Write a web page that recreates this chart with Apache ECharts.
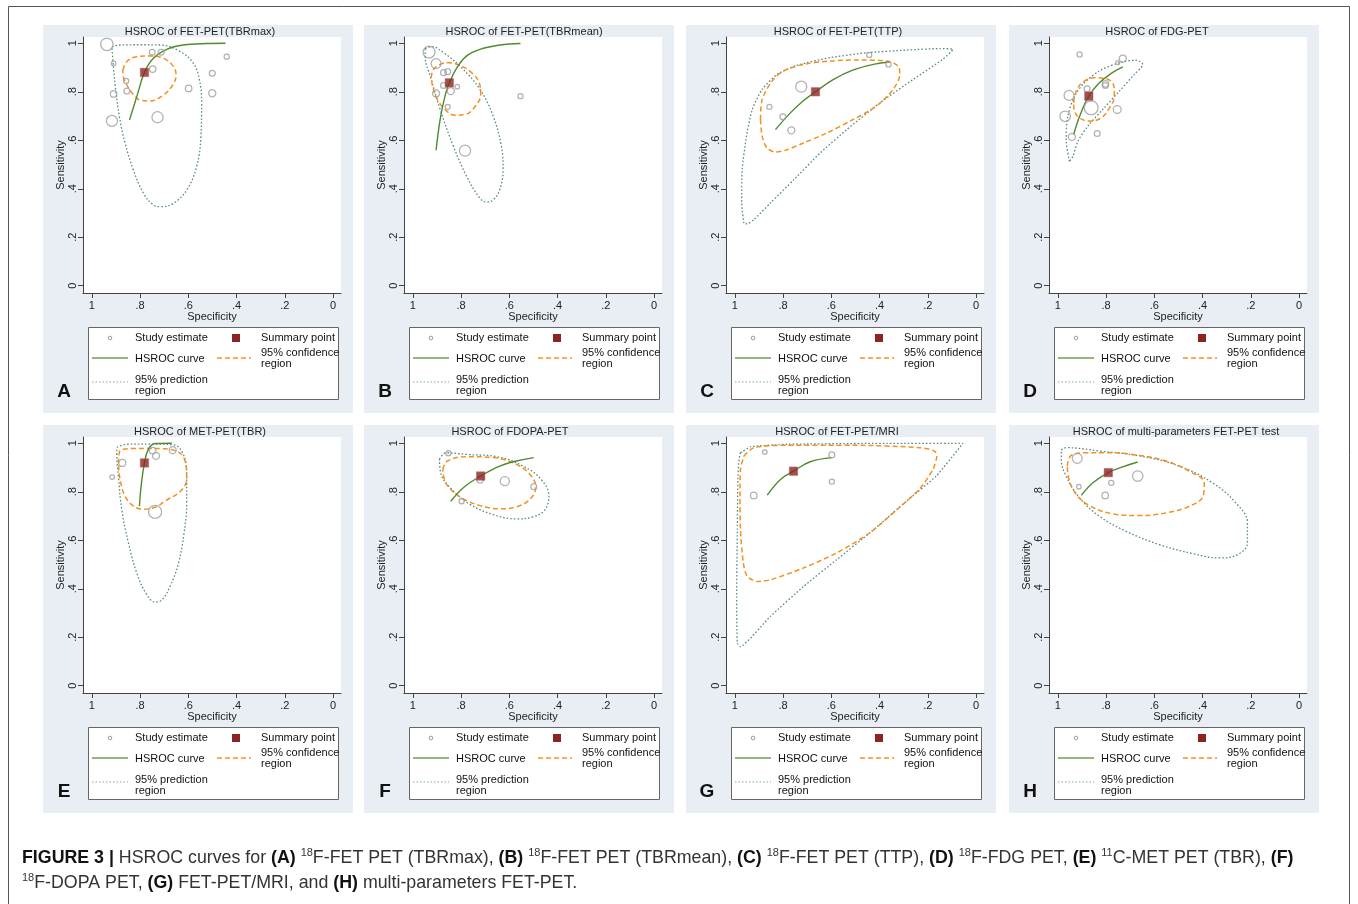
<!DOCTYPE html>
<html><head><meta charset="utf-8">
<script src="https://cdn.jsdelivr.net/npm/echarts@6/dist/echarts.min.js"></script>
<style>html,body{margin:0;padding:0;background:#fff}#c{width:1358px;height:904px}</style>
</head><body><div id="c"></div>
<script>
// ---------------- data ----------------
const titles = ['HSROC of FET-PET(TBRmax)','HSROC of FET-PET(TBRmean)','HSROC of FET-PET(TTP)','HSROC of FDG-PET',
  'HSROC of MET-PET(TBR)','HSROC of FDOPA-PET','HSROC of FET-PET/MRI','HSROC of multi-parameters FET-PET test'];
const panelLetters = ['A','B','C','D','E','F','G','H'];
const tickValues = [0, 0.2, 0.4, 0.6, 0.8, 1];
const tickLabels = ['0', '.2', '.4', '.6', '.8', '1'];
const xAxisName = 'Specificity';
const yAxisName = 'Sensitivity';
const legendStudy = 'Study estimate';
const legendSummary = 'Summary point';
const legendCurve = 'HSROC curve';
const legendConf = '95% confidence\nregion';
const legendPred = '95% prediction\nregion';

// study estimates: [specificity, sensitivity, study weight]
const studiesA = [[0.938,0.996,6],[0.910,0.917,2],[0.858,0.845,2.3],[0.855,0.803,2.7],[0.910,0.791,3],[0.917,0.680,5.3],[0.750,0.963,2.7],[0.713,0.963,2.7],[0.748,0.894,3],[0.728,0.695,5.3],[0.599,0.814,3],[0.501,0.876,2.7],[0.501,0.794,3.3],[0.441,0.945,2.3]];
const summaryA = [0.782,0.880];
const curveA = [[0.844,0.684],[0.814,0.780],[0.782,0.880],[0.745,0.938],[0.690,0.975],[0.621,0.993],[0.524,0.999],[0.446,1.0]];
const confA = [[0.872,0.890],[0.852,0.928],[0.814,0.945],[0.759,0.948],[0.703,0.938],[0.662,0.904],[0.651,0.869],[0.665,0.828],[0.703,0.787],[0.759,0.762],[0.800,0.766],[0.830,0.791],[0.855,0.828],[0.869,0.860]];
const predA = [[0.917,0.986],[0.883,0.993],[0.800,0.994],[0.717,0.993],[0.634,0.966],[0.579,0.917],[0.554,0.849],[0.545,0.752],[0.548,0.615],[0.566,0.491],[0.607,0.395],[0.662,0.340],[0.717,0.326],[0.745,0.333],[0.786,0.381],[0.828,0.477],[0.862,0.587],[0.886,0.697],[0.903,0.821],[0.913,0.931]];

const studiesB = [[0.933,0.964,5.7],[0.904,0.916,4.7],[0.904,0.793,3.3],[0.873,0.879,2.7],[0.856,0.883,2.7],[0.873,0.826,2.7],[0.843,0.803,3.3],[0.816,0.821,2],[0.856,0.738,2.3],[0.784,0.557,5.3],[0.554,0.782,2.3]];
const summaryB = [0.849,0.837];
const curveB = [[0.904,0.559],[0.887,0.686],[0.867,0.782],[0.849,0.837],[0.818,0.899],[0.777,0.948],[0.722,0.975],[0.640,0.993],[0.554,0.999]];
const confB = [[0.924,0.858],[0.915,0.892],[0.887,0.913],[0.853,0.920],[0.805,0.909],[0.757,0.879],[0.725,0.837],[0.719,0.789],[0.743,0.738],[0.784,0.706],[0.825,0.703],[0.867,0.727],[0.898,0.768],[0.917,0.817]];
const predB = [[0.949,0.978],[0.922,0.986],[0.873,0.961],[0.805,0.906],[0.722,0.810],[0.667,0.699],[0.633,0.575],[0.626,0.479],[0.640,0.396],[0.667,0.354],[0.695,0.345],[0.722,0.361],[0.777,0.451],[0.832,0.575],[0.887,0.727],[0.928,0.865],[0.949,0.941]];

const studiesC = [[0.857,0.738,2.3],[0.801,0.697,2.7],[0.766,0.641,3.3],[0.725,0.821,5.3],[0.443,0.952,2.3],[0.363,0.913,2.3]];
const summaryC = [0.666,0.800];
const curveC = [[0.832,0.644],[0.770,0.713],[0.715,0.764],[0.666,0.800],[0.591,0.851],[0.509,0.890],[0.426,0.913],[0.358,0.923]];
const confC = [[0.894,0.686],[0.887,0.768],[0.846,0.844],[0.798,0.886],[0.715,0.913],[0.605,0.927],[0.481,0.931],[0.371,0.927],[0.323,0.906],[0.316,0.872],[0.344,0.810],[0.413,0.741],[0.509,0.686],[0.619,0.630],[0.715,0.589],[0.784,0.561],[0.832,0.552],[0.867,0.568],[0.887,0.617]];
const predC = [[0.963,0.258],[0.972,0.341],[0.970,0.479],[0.952,0.617],[0.928,0.727],[0.887,0.810],[0.825,0.872],[0.743,0.909],[0.605,0.941],[0.454,0.961],[0.289,0.972],[0.151,0.978],[0.096,0.975],[0.138,0.934],[0.261,0.851],[0.399,0.754],[0.536,0.644],[0.646,0.548],[0.756,0.437],[0.853,0.341],[0.922,0.272],[0.949,0.255]];

const studiesD = [[0.910,0.954,2.3],[0.731,0.937,3.3],[0.752,0.920,1.7],[0.803,0.833,3],[0.803,0.826,2.7],[0.879,0.812,2.7],[0.954,0.785,4.7],[0.862,0.734,6.7],[0.970,0.699,5],[0.754,0.727,3.7],[0.942,0.614,3.3],[0.837,0.628,2.7]];
const summaryD = [0.872,0.782];
const curveD = [[0.935,0.623],[0.910,0.699],[0.872,0.782],[0.828,0.837],[0.779,0.876],[0.731,0.903]];
const confD = [[0.935,0.754],[0.921,0.810],[0.890,0.844],[0.848,0.858],[0.800,0.854],[0.768,0.823],[0.766,0.782],[0.786,0.734],[0.821,0.692],[0.869,0.679],[0.910,0.692],[0.931,0.720]];
const predD = [[0.952,0.513],[0.966,0.603],[0.959,0.699],[0.931,0.782],[0.890,0.837],[0.828,0.886],[0.745,0.920],[0.676,0.930],[0.648,0.913],[0.683,0.872],[0.745,0.803],[0.814,0.727],[0.876,0.658],[0.917,0.596],[0.938,0.534]];

const studiesE = [[0.916,0.861,2],[0.874,0.919,3.3],[0.748,0.970,3],[0.734,0.948,3.3],[0.665,0.972,3.3],[0.738,0.717,6.3]];
const summaryE = [0.782,0.919];
const curveE = [[0.803,0.741],[0.796,0.823],[0.782,0.919],[0.766,0.975],[0.738,0.999],[0.669,1.0]];
const confE = [[0.890,0.917],[0.883,0.970],[0.800,0.979],[0.703,0.978],[0.634,0.959],[0.610,0.911],[0.607,0.849],[0.634,0.801],[0.690,0.766],[0.738,0.736],[0.786,0.728],[0.828,0.741],[0.862,0.780],[0.883,0.849]];
const predE = [[0.897,0.983],[0.855,0.996],[0.759,0.997],[0.662,0.994],[0.623,0.959],[0.607,0.876],[0.607,0.752],[0.618,0.629],[0.641,0.505],[0.676,0.410],[0.710,0.354],[0.738,0.345],[0.772,0.375],[0.814,0.465],[0.848,0.587],[0.876,0.725],[0.890,0.862],[0.897,0.959]];

const studiesF = [[0.853,0.959,2.3],[0.722,0.851,3.3],[0.619,0.844,4.3],[0.499,0.821,2.7],[0.798,0.761,2.3]];
const summaryF = [0.719,0.865];
const curveF = [[0.843,0.761],[0.791,0.817],[0.719,0.865],[0.640,0.906],[0.571,0.927],[0.499,0.941]];
const confF = [[0.876,0.892],[0.857,0.927],[0.777,0.945],[0.667,0.941],[0.571,0.913],[0.509,0.865],[0.491,0.817],[0.516,0.768],[0.571,0.738],[0.640,0.730],[0.722,0.743],[0.805,0.779],[0.857,0.826],[0.873,0.865]];
const predF = [[0.890,0.934],[0.862,0.961],[0.777,0.954],[0.653,0.945],[0.543,0.906],[0.468,0.851],[0.436,0.782],[0.454,0.724],[0.502,0.697],[0.571,0.688],[0.667,0.706],[0.763,0.748],[0.839,0.810],[0.883,0.872]];

const studiesG = [[0.876,0.964,2],[0.598,0.952,2.7],[0.598,0.842,2.3],[0.922,0.785,3]];
const summaryG = [0.757,0.885];
const curveG = [[0.866,0.786],[0.811,0.851],[0.757,0.885],[0.688,0.924],[0.598,0.941]];
const confG = [[0.963,0.947],[0.922,0.982],[0.784,0.992],[0.509,0.992],[0.234,0.982],[0.172,0.968],[0.163,0.947],[0.179,0.892],[0.234,0.812],[0.316,0.737],[0.440,0.631],[0.578,0.548],[0.715,0.486],[0.853,0.437],[0.908,0.430],[0.949,0.451],[0.965,0.506],[0.977,0.644],[0.979,0.782],[0.977,0.892]];
const predG = [[0.977,0.961],[0.935,0.986],[0.784,0.996],[0.371,1.0],[0.055,0.999],[0.165,0.865],[0.289,0.761],[0.440,0.631],[0.578,0.520],[0.715,0.410],[0.853,0.286],[0.977,0.161],[0.990,0.175],[0.993,0.368],[0.990,0.644],[0.988,0.851],[0.983,0.934]];

const studiesH = [[0.920,0.938,4.7],[0.913,0.821,2],[0.804,0.785,3],[0.779,0.837,2.3],[0.669,0.865,5]];
const summaryH = [0.791,0.879];
const curveH = [[0.903,0.785],[0.855,0.837],[0.791,0.879],[0.731,0.903],[0.669,0.923]];
const confH = [[0.961,0.906],[0.945,0.950],[0.883,0.961],[0.786,0.961],[0.662,0.950],[0.552,0.927],[0.448,0.881],[0.393,0.837],[0.397,0.785],[0.448,0.743],[0.552,0.713],[0.662,0.702],[0.772,0.709],[0.869,0.743],[0.924,0.789],[0.954,0.851]];
const predH = [[0.986,0.972],[0.966,0.982],[0.828,0.968],[0.662,0.948],[0.497,0.906],[0.359,0.837],[0.262,0.754],[0.214,0.672],[0.214,0.589],[0.255,0.541],[0.331,0.527],[0.441,0.545],[0.579,0.582],[0.717,0.637],[0.828,0.699],[0.910,0.775],[0.966,0.865],[0.986,0.934]];

// ---------------- layout / style ----------------
const panels = [
  [studiesA, summaryA, curveA, confA, predA],
  [studiesB, summaryB, curveB, confB, predB],
  [studiesC, summaryC, curveC, confC, predC],
  [studiesD, summaryD, curveD, confD, predD],
  [studiesE, summaryE, curveE, confE, predE],
  [studiesF, summaryF, curveF, confF, predF],
  [studiesG, summaryG, curveG, confG, predG],
  [studiesH, summaryH, curveH, confH, predH]
];
const colLeft = [43, 364, 686, 1009];
const rowTop = [25, 425];
const titleCenter = [157, 160, 152, 148, 157, 146, 151, 167];
const predSmooth = [0.4, 0.4, 0.2, 0.3, 0.4, 0.4, 0.12, 0.4];
const confSmooth = [0.4, 0.4, 0.3, 0.4, 0.35, 0.4, 0.25, 0.4];
const FONT = "'Liberation Sans', Arial, Helvetica, sans-serif";
const C_BG = '#e8eef3', C_AXIS = '#444', C_TXT = '#222';
const C_STUDY = '#9e9e9e', C_SUM = '#8c2426', C_CURVE = '#4f8a2f', C_CONF = '#f39020', C_PRED = '#5a8b85';

function fmt(v) {
  const i = tickValues.findIndex(t => Math.abs(t - v) < 1e-6);
  return i >= 0 ? tickLabels[i] : '';
}
const close = a => a.concat([a[0]]);

const grids = [], xAxes = [], yAxes = [], series = [], graphics = [];

graphics.push({type:'rect', z:-5, shape:{x:8.5, y:6.5, width:1341, height:930}, style:{fill:'#fff', stroke:'#555', lineWidth:1}});

panels.forEach((p, i) => {
  const L = colLeft[i % 4], T = rowTop[Math.floor(i / 4)];
  const [studies, summary, curve, conf, pred] = p;
  grids.push({left: L + 40, top: T + 12, width: 258, height: 256, show: true, backgroundColor: '#fff', borderWidth: 0, containLabel: false});
  xAxes.push({
    gridIndex: i, type: 'value', inverse: true, min: -0.033, max: 1.037,
    axisLine: {show: true, onZero: false, lineStyle: {color: C_AXIS, width: 1}},
    axisTick: {show: true, customValues: tickValues, length: 5, lineStyle: {color: C_AXIS}},
    axisLabel: {customValues: tickValues, formatter: fmt, fontSize: 11, color: C_TXT, margin: 7, fontFamily: FONT},
    splitLine: {show: false},
    name: xAxisName, nameLocation: 'middle', nameGap: 17,
    nameTextStyle: {fontSize: 11, color: C_TXT, fontFamily: FONT}
  });
  yAxes.push({
    gridIndex: i, type: 'value', min: -0.030, max: 1.026,
    axisLine: {show: true, onZero: false, lineStyle: {color: C_AXIS, width: 1}},
    axisTick: {show: true, customValues: tickValues, length: 5, lineStyle: {color: C_AXIS}},
    axisLabel: {customValues: tickValues, formatter: fmt, fontSize: 11, color: C_TXT, margin: 5, rotate: 90, fontFamily: FONT},
    splitLine: {show: false},
    name: yAxisName, nameLocation: 'middle', nameGap: 16,
    nameTextStyle: {fontSize: 11, color: C_TXT, fontFamily: FONT}
  });
  series.push({type: 'line', name: 'pred' + i, xAxisIndex: i, yAxisIndex: i, data: close(pred), smooth: predSmooth[i], symbol: 'none', silent: true, z: 2,
    lineStyle: {color: C_PRED, width: 1.3, type: [1.6, 2]}});
  series.push({type: 'line', name: 'conf' + i, xAxisIndex: i, yAxisIndex: i, data: close(conf), smooth: confSmooth[i], symbol: 'none', silent: true, z: 3,
    lineStyle: {color: C_CONF, width: 1.5, type: [5, 3]}});
  series.push({type: 'line', name: 'curve' + i, xAxisIndex: i, yAxisIndex: i, data: curve, smooth: 0.4, symbol: 'none', silent: true, z: 4,
    lineStyle: {color: C_CURVE, width: 1.4}});
  series.push({type: 'scatter', name: 'study' + i, xAxisIndex: i, yAxisIndex: i, z: 5, silent: true,
    data: studies.map(s => [s[0], s[1], s[2]]),
    symbol: 'circle', symbolSize: d => 2 * d[2] + 0.5,
    itemStyle: {color: 'rgba(255,255,255,0)', borderColor: C_STUDY, borderWidth: 1.25}});
  series.push({type: 'scatter', name: 'summary' + i, xAxisIndex: i, yAxisIndex: i, z: 6, silent: true,
    data: [summary], symbol: 'rect', symbolSize: 8.5,
    itemStyle: {color: C_SUM, borderColor: '#b66a6a', borderWidth: 0.6}});

  // panel background & title
  graphics.push({type: 'rect', z: -4, shape: {x: L, y: T, width: 310, height: 388}, style: {fill: C_BG}});
  graphics.push({type: 'text', z: 1, x: L + titleCenter[i], y: T + 6.5,
    style: {text: titles[i], fill: C_TXT, font: '11px ' + FONT, align: 'center', verticalAlign: 'middle'}});
  // legend box
  const txt = (s, x, y) => ({type: 'text', z: 2, x: x, y: y,
    style: {text: s, fill: '#111', font: '11px ' + FONT, align: 'left', verticalAlign: 'middle', lineHeight: 11}});
  graphics.push({type: 'rect', z: 1, shape: {x: L + 45.5, y: T + 302.5, width: 250, height: 72}, style: {fill: '#fff', stroke: '#666', lineWidth: 1}});
  graphics.push({type: 'circle', z: 2, shape: {cx: L + 67, cy: T + 313, r: 1.8}, style: {fill: 'none', stroke: C_STUDY, lineWidth: 1}});
  graphics.push(txt(legendStudy, L + 92, T + 313));
  graphics.push({type: 'rect', z: 2, shape: {x: L + 189, y: T + 309, width: 8, height: 8}, style: {fill: C_SUM}});
  graphics.push(txt(legendSummary, L + 218, T + 313));
  graphics.push({type: 'line', z: 2, shape: {x1: L + 49, y1: T + 333, x2: L + 85, y2: T + 333}, style: {stroke: '#6f9e52', lineWidth: 1.3}});
  graphics.push(txt(legendCurve, L + 92, T + 334));
  graphics.push({type: 'line', z: 2, shape: {x1: L + 174, y1: T + 333, x2: L + 208, y2: T + 333}, style: {stroke: C_CONF, lineWidth: 1.3, lineDash: [5, 3]}});
  graphics.push(txt(legendConf, L + 218, T + 333.5));
  graphics.push({type: 'line', z: 2, shape: {x1: L + 49, y1: T + 357, x2: L + 85, y2: T + 357}, style: {stroke: '#7fa6a0', lineWidth: 1.2, lineDash: [1.5, 2]}});
  graphics.push(txt(legendPred, L + 92, T + 360));
  graphics.push({type: 'text', z: 2, x: L + 21, y: T + 367,
    style: {text: panelLetters[i], fill: '#111', font: 'bold 19px ' + FONT, align: 'center', verticalAlign: 'middle'}});
});

// caption
const capRich = {
  b: {fontSize: 17.8, fontWeight: 'bold', fontFamily: FONT, fill: '#111', lineHeight: 22},
  n: {fontSize: 17.8, fontFamily: FONT, fill: '#333', lineHeight: 22},
  s: {fontSize: 11, fontFamily: FONT, fill: '#333', lineHeight: 11, verticalAlign: 'top'}
};
const capLine1 = '{b|FIGURE 3 |}{n| HSROC curves for }{b|(A)}{n| }{s|18}{n|F-FET PET (TBRmax), }{b|(B)}{n| }{s|18}{n|F-FET PET (TBRmean), }{b|(C)}{n| }{s|18}{n|F-FET PET (TTP), }{b|(D)}{n| }{s|18}{n|F-FDG PET, }{b|(E)}{n| }{s|11}{n|C-MET PET (TBR), }{b|(F)}';
const capLine2 = '{s|18}{n|F-DOPA PET, }{b|(G)}{n| FET-PET/MRI, and }{b|(H)}{n| multi-parameters FET-PET.}';
graphics.push({type: 'text', z: 2, x: 22, y: 858, style: {text: capLine1, rich: capRich, align: 'left', verticalAlign: 'middle'}});
graphics.push({type: 'text', z: 2, x: 22, y: 883, style: {text: capLine2, rich: capRich, align: 'left', verticalAlign: 'middle'}});

const chart = echarts.init(document.getElementById('c'), null, {renderer: 'canvas'});
chart.setOption({
  backgroundColor: '#fff',
  animation: false,
  grid: grids, xAxis: xAxes, yAxis: yAxes, series: series,
  graphic: {elements: graphics}
});
</script></body></html>
